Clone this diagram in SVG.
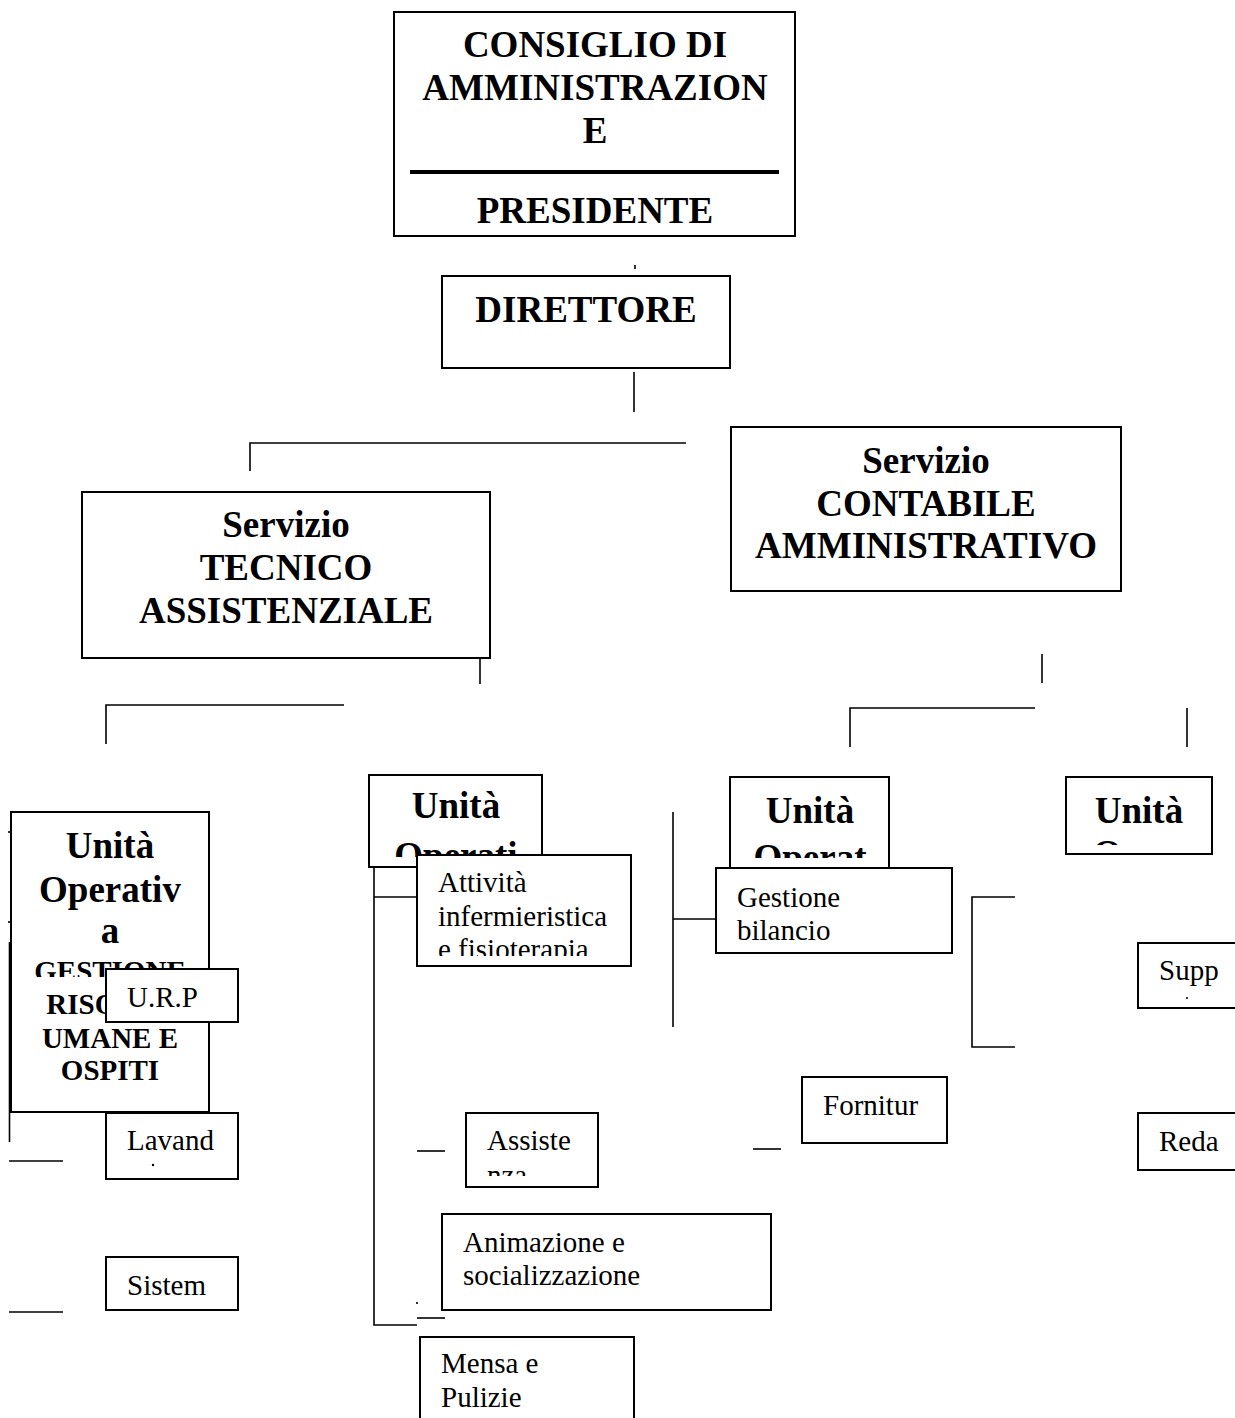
<svg xmlns="http://www.w3.org/2000/svg" width="1235" height="1418" viewBox="0 0 1235 1418">
<style>
.box{fill:#fff;stroke:#000;stroke-width:2}
.ln{stroke:#000;stroke-width:1.6;fill:none}
.b{font-family:"Liberation Serif","Times New Roman",serif;font-weight:bold;font-size:37px;fill:#000;text-anchor:middle}
.bs{font-family:"Liberation Serif","Times New Roman",serif;font-weight:bold;font-size:29px;fill:#000;text-anchor:middle}
.r{font-family:"Liberation Serif","Times New Roman",serif;font-size:29px;fill:#000}
</style>
<defs>
<clipPath id="cGest"><rect x="12" y="940" width="196" height="37"/></clipPath>
<clipPath id="cMid"><rect x="370" y="776" width="171" height="81"/></clipPath>
<clipPath id="cMidR"><rect x="731" y="778" width="157" height="80"/></clipPath>
<clipPath id="cRight"><rect x="1067" y="778" width="144" height="67"/></clipPath>
<clipPath id="cAtt"><rect x="418" y="856" width="212" height="100"/></clipPath>
<clipPath id="cAss"><rect x="467" y="1114" width="130" height="62"/></clipPath>
</defs>
<rect width="1235" height="1418" fill="#fff"/>

<g id="connectors">
<line class="ln" x1="635" y1="265" x2="635" y2="269"/>
<line class="ln" x1="634" y1="372" x2="634" y2="412"/>
<polyline class="ln" points="250,471 250,443 686,443"/>
<line class="ln" x1="1043" y1="444" x2="1043" y2="471"/>
<line class="ln" x1="480" y1="658" x2="480" y2="684"/>
<polyline class="ln" points="106,744 106,705 344,705"/>
<line class="ln" x1="1042" y1="654" x2="1042" y2="683"/>
<polyline class="ln" points="850,747 850,708 1035,708"/>
<line class="ln" x1="1187" y1="708" x2="1187" y2="747"/>
<line class="ln" x1="8" y1="832" x2="11" y2="832"/>
<line class="ln" x1="8" y1="922" x2="11" y2="922"/>
<line class="ln" x1="9.5" y1="942" x2="9.5" y2="1142"/>
<line class="ln" x1="11" y1="977" x2="106" y2="977"/>
<line class="ln" x1="9" y1="1161" x2="63" y2="1161"/>
<line class="ln" x1="9" y1="1312" x2="63" y2="1312"/>
<polyline class="ln" points="374,867 374,1325 417,1325"/>
<line class="ln" x1="374" y1="897" x2="417" y2="897"/>
<line class="ln" x1="417" y1="1151" x2="445" y2="1151"/>
<line class="ln" x1="417" y1="1318" x2="445" y2="1318"/>
<circle cx="417" cy="1303" r="1.1" fill="#000"/>
<line class="ln" x1="753" y1="1149" x2="781" y2="1149"/>
<line class="ln" x1="673" y1="812" x2="673" y2="1027"/>
<line class="ln" x1="673" y1="919" x2="716" y2="919"/>
<polyline class="ln" points="1015,897 972,897 972,1047 1015,1047"/>
</g>

<g id="consiglio">
<rect class="box" x="394" y="12" width="401" height="224"/>
<text class="b" x="595" y="57">CONSIGLIO DI</text>
<text class="b" x="595" y="100">AMMINISTRAZION</text>
<text class="b" x="595" y="143">E</text>
<line x1="410" y1="172" x2="779" y2="172" stroke="#000" stroke-width="4"/>
<text class="b" x="595" y="223">PRESIDENTE</text>
</g>

<g id="direttore">
<rect class="box" x="442" y="276" width="288" height="92"/>
<text class="b" x="586" y="322">DIRETTORE</text>
</g>

<g id="servizio-tecnico">
<rect class="box" x="82" y="492" width="408" height="166"/>
<text class="b" x="286" y="537">Servizio</text>
<text class="b" x="286" y="580">TECNICO</text>
<text class="b" x="286" y="623">ASSISTENZIALE</text>
</g>

<g id="servizio-contabile">
<rect class="box" x="731" y="427" width="390" height="164"/>
<text class="b" x="926" y="473">Servizio</text>
<text class="b" x="926" y="516">CONTABILE</text>
<text class="b" x="926" y="558">AMMINISTRATIVO</text>
</g>

<g id="uo-risorse">
<rect class="box" x="11" y="812" width="198" height="300"/>
<text class="b" x="110" y="858">Unità</text>
<text class="b" x="110" y="902">Operativ</text>
<text class="b" x="110" y="943">a</text>
<text class="bs" x="110" y="981" clip-path="url(#cGest)">GESTIONE</text>
<text class="bs" x="110" y="1014">RISORSE</text>
<text class="bs" x="110" y="1048">UMANE E</text>
<text class="bs" x="110" y="1080">OSPITI</text>
</g>

<g id="urp">
<rect class="box" x="106" y="969" width="132" height="53"/>
<text class="r" x="127" y="1007">U.R.P</text>
</g>

<g id="lavanderia">
<rect class="box" x="106" y="1113" width="132" height="66"/>
<text class="r" x="127" y="1150">Lavand</text>
<circle cx="153" cy="1165" r="1.2" fill="#000"/>
</g>

<g id="sistemi">
<rect class="box" x="106" y="1257" width="132" height="53"/>
<text class="r" x="127" y="1295">Sistem</text>
</g>

<g id="uo-mid">
<rect class="box" x="369" y="775" width="173" height="92"/>
<text class="b" x="456" y="818">Unità</text>
<text class="b" x="456" y="868" clip-path="url(#cMid)">Operati</text>
</g>

<g id="attivita">
<rect class="box" x="417" y="855" width="214" height="111"/>
<g clip-path="url(#cAtt)">
<text class="r" x="438" y="892">Attività</text>
<text class="r" x="438" y="925.5">infermieristica</text>
<text class="r" x="438" y="959">e fisioterapia</text>
</g>
</g>

<g id="assistenza">
<rect class="box" x="466" y="1113" width="132" height="74"/>
<g clip-path="url(#cAss)">
<text class="r" x="487" y="1150">Assiste</text>
<text class="r" x="487" y="1185">nza</text>
</g>
</g>

<g id="animazione">
<rect class="box" x="442" y="1214" width="329" height="96"/>
<text class="r" x="463" y="1252">Animazione e</text>
<text class="r" x="463" y="1285">socializzazione</text>
</g>

<g id="mensa">
<rect class="box" x="420" y="1337" width="214" height="100"/>
<text class="r" x="441" y="1373">Mensa e</text>
<text class="r" x="441" y="1407">Pulizie</text>
</g>

<g id="uo-midright">
<rect class="box" x="730" y="777" width="159" height="91"/>
<text class="b" x="810" y="823">Unità</text>
<text class="b" x="810" y="870" clip-path="url(#cMidR)">Operat</text>
</g>

<g id="bilancio">
<rect class="box" x="716" y="868" width="236" height="85"/>
<text class="r" x="737" y="907">Gestione</text>
<text class="r" x="737" y="940">bilancio</text>
</g>

<g id="forniture">
<rect class="box" x="802" y="1077" width="145" height="66"/>
<text class="r" x="823" y="1115">Fornitur</text>
</g>

<g id="uo-right">
<rect class="box" x="1066" y="777" width="146" height="77"/>
<text class="b" x="1139" y="823">Unità</text>
<text class="b" x="1093" y="866" style="text-anchor:start" clip-path="url(#cRight)">O</text>
</g>

<g id="supporto">
<rect class="box" x="1138" y="943" width="110" height="65"/>
<text class="r" x="1159" y="980">Supp</text>
<circle cx="1187" cy="998" r="1" fill="#000"/>
</g>

<g id="redazione">
<rect class="box" x="1138" y="1113" width="110" height="57"/>
<text class="r" x="1159" y="1151">Reda</text>
</g>
</svg>
